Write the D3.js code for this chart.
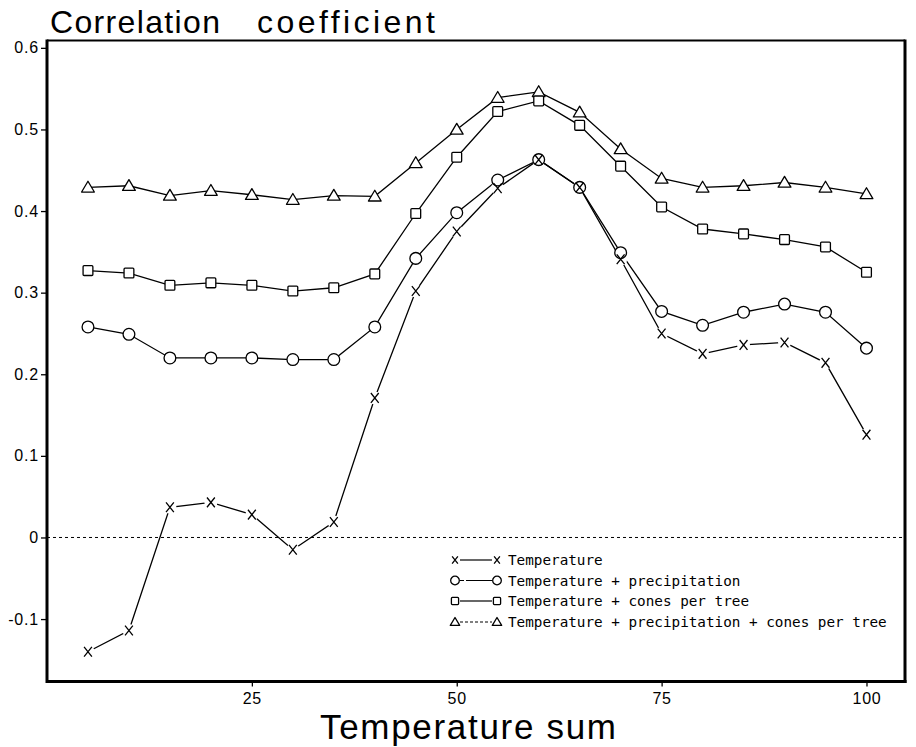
<!DOCTYPE html>
<html>
<head>
<meta charset="utf-8">
<script src="https://cdn.jsdelivr.net/npm/d3@7"></script>
<style>
  html, body { margin: 0; padding: 0; background: #fff; }
  svg { display: block; }
  .tick text { font-family: "Liberation Sans", Arial, sans-serif; font-size: 16px; letter-spacing: 0.8px; fill: #000; }
  .tick line { stroke: #000; stroke-width: 1.3; }
</style>
</head>
<body>
<div id="chart"></div>
<script>
/* 溫度積與相關係數 — 四條模型曲線 */

const temperatureSum = [5, 10, 15, 20, 25, 30, 35, 40, 45, 50, 55, 60, 65, 70, 75, 80, 85, 90, 95, 100];
const tempOnly        = [-0.140, -0.114, 0.037, 0.043, 0.028, -0.015, 0.019, 0.171, 0.302, 0.375, 0.428, 0.463, 0.429, 0.341, 0.250, 0.225, 0.236, 0.239, 0.214, 0.126];
const tempPrecip      = [0.258, 0.249, 0.220, 0.220, 0.220, 0.218, 0.218, 0.258, 0.342, 0.398, 0.438, 0.463, 0.429, 0.349, 0.277, 0.260, 0.276, 0.286, 0.276, 0.232];
const tempCones       = [0.327, 0.324, 0.309, 0.312, 0.309, 0.302, 0.306, 0.323, 0.397, 0.466, 0.522, 0.535, 0.505, 0.455, 0.405, 0.378, 0.372, 0.365, 0.356, 0.325];
const tempPrecipCones = [0.429, 0.431, 0.419, 0.425, 0.420, 0.414, 0.419, 0.418, 0.459, 0.500, 0.539, 0.546, 0.521, 0.476, 0.440, 0.429, 0.431, 0.435, 0.429, 0.421];

const xTicks = [25, 50, 75, 100];
const yTicks = [0.6, 0.5, 0.4, 0.3, 0.2, 0.1, 0, -0.1];
const yTickLabels = ["0.6", "0.5", "0.4", "0.3", "0.2", "0.1", "0", "-0.1"];

const seriesNames = [
  "Temperature",
  "Temperature + precipitation",
  "Temperature + cones per tree",
  "Temperature + precipitation + cones per tree"
];
const seriesSymbols = ["x", "circle", "square", "triangle"];
const seriesValues = [tempOnly, tempPrecip, tempCones, tempPrecipCones];

const W = 916, H = 747;
const L = 47, R = 905, T = 40.5, B = 681.5;

const svg = d3.select("#chart").append("svg").attr("width", W).attr("height", H);

const x = d3.scaleLinear().domain([0, 104.7]).range([L, R]);
const y = d3.scaleLinear().domain([-0.1765, 0.609]).range([B, T]);

/* 軸 */
const gy = svg.append("g").attr("transform", `translate(${L},0)`)
  .call(d3.axisLeft(y).tickValues(yTicks).tickSize(6).tickPadding(2)
    .tickFormat((d, i) => yTickLabels[i]));
gy.select(".domain").remove();

const gx = svg.append("g").attr("transform", `translate(0,${B})`)
  .call(d3.axisBottom(x).tickValues(xTicks).tickSize(5).tickPadding(6));
gx.select(".domain").remove();

/* 零線 */
svg.append("line").attr("x1", L).attr("x2", R).attr("y1", y(0)).attr("y2", y(0))
  .attr("stroke", "#000").attr("stroke-width", 1).attr("stroke-dasharray", "3 3");

/* 外框 */
svg.append("line").attr("x1", L).attr("x2", R).attr("y1", T).attr("y2", T).attr("stroke", "#000").attr("stroke-width", 2);
svg.append("line").attr("x1", L).attr("x2", R + 1.5).attr("y1", B).attr("y2", B).attr("stroke", "#000").attr("stroke-width", 3);
svg.append("line").attr("x1", L).attr("x2", L).attr("y1", T - 1).attr("y2", B + 1.5).attr("stroke", "#000").attr("stroke-width", 3);
svg.append("line").attr("x1", R).attr("x2", R).attr("y1", T - 1).attr("y2", B + 1.5).attr("stroke", "#000").attr("stroke-width", 3);

/* 標記 */
function marker(g, type, s) {
  if (type === "x") {
    g.append("path").attr("d", `M${-0.8 * s},${-s}L${0.8 * s},${s}M${0.8 * s},${-s}L${-0.8 * s},${s}`)
      .attr("stroke", "#000").attr("stroke-width", 1.3).attr("fill", "none");
  } else if (type === "circle") {
    g.append("circle").attr("r", 1.2 * s).attr("fill", "#fff").attr("stroke", "#000").attr("stroke-width", 1.3);
  } else if (type === "square") {
    g.append("rect").attr("x", -s).attr("y", -s).attr("width", 2 * s).attr("height", 2 * s).attr("rx", 1)
      .attr("fill", "#fff").attr("stroke", "#000").attr("stroke-width", 1.3);
  } else {
    g.append("path").attr("d", `M0,${-1.25 * s}L${1.3 * s},${0.95 * s}L${-1.3 * s},${0.95 * s}Z`)
      .attr("fill", "#fff").attr("stroke", "#000").attr("stroke-width", 1.3).attr("stroke-linejoin", "round");
  }
}

const line = d3.line().x((d, i) => x(temperatureSum[i])).y(d => y(d));
seriesValues.forEach(vals => {
  svg.append("path").attr("d", line(vals)).attr("fill", "none")
    .attr("stroke", "#000").attr("stroke-width", 1.3);
});

/* X 標記的空白底 */
svg.append("g").selectAll("circle").data(tempOnly).join("circle")
  .attr("cx", (d, i) => x(temperatureSum[i])).attr("cy", d => y(d))
  .attr("r", 6.5).attr("fill", "#fff");

[3, 2, 1].forEach(k => {
  seriesValues[k].forEach((v, i) => {
    const g = svg.append("g").attr("transform", `translate(${x(temperatureSum[i])},${y(v)})`);
    marker(g, seriesSymbols[k], 4.9);
  });
});
tempOnly.forEach((v, i) => {
  const g = svg.append("g").attr("transform", `translate(${x(temperatureSum[i])},${y(v)})`);
  marker(g, "x", 4.9);
});

/* 圖例 */
const legendRows = [560, 580.5, 601, 622];
const legendDash = [null, "4 2 30 0", null, "3 2"];
seriesNames.forEach((name, k) => {
  const ly = legendRows[k];
  svg.append("line").attr("x1", 460).attr("x2", 492).attr("y1", ly).attr("y2", ly)
    .attr("stroke", "#000").attr("stroke-width", 1.2).attr("stroke-dasharray", legendDash[k]);
  [455, 497].forEach(lx => {
    const g = svg.append("g").attr("transform", `translate(${lx},${ly})`);
    marker(g, seriesSymbols[k], 3.6);
  });
  svg.append("text").attr("x", 508).attr("y", ly + 5)
    .attr("font-family", "'DejaVu Sans Mono', 'Liberation Mono', monospace")
    .attr("font-size", 14.3).attr("fill", "#000").text(name);
});

/* 標題 */
svg.append("text").attr("x", 50).attr("y", 33).attr("textLength", 170).attr("lengthAdjust", "spacing")
  .attr("font-family", "'Liberation Sans', Arial, sans-serif").attr("font-size", 32).text("Correlation");
svg.append("text").attr("x", 257).attr("y", 33).attr("textLength", 178).attr("lengthAdjust", "spacing")
  .attr("font-family", "'Liberation Sans', Arial, sans-serif").attr("font-size", 32).text("coefficient");
svg.append("text").attr("x", 320).attr("y", 739).attr("textLength", 296).attr("lengthAdjust", "spacing")
  .attr("font-family", "'Liberation Sans', Arial, sans-serif").attr("font-size", 35).text("Temperature sum");
</script>
</body>
</html>
